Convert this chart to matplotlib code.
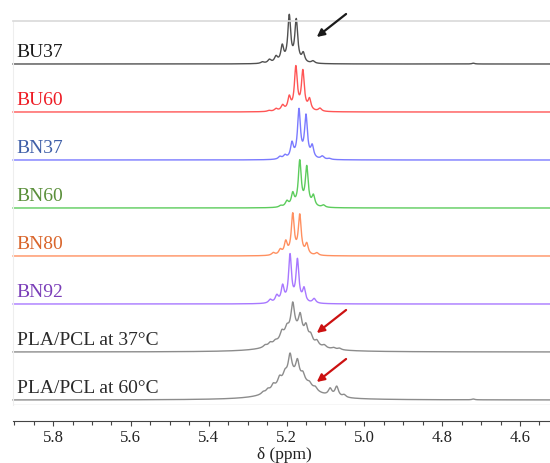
import numpy as np
import matplotlib
matplotlib.use('Agg')
import matplotlib.pyplot as plt
from matplotlib.ticker import MultipleLocator, FormatStrFormatter

plt.rcParams['font.family'] = ['Liberation Serif', 'DejaVu Serif']

# peak lists: (shift in ppm, height, half width)
BU37 = [(5.193, 46, .0045), (5.175, 42, .0045), (5.211, 16, .0045), (5.157, 9, .0045),
        (5.132, 2.3, .005), (5.227, 6, .005), (5.244, 3.5, .005), (5.262, 1.5, .005),
        (4.72, 0.8, .004)]
BU60 = [(5.176, 43, .0045), (5.158, 39, .0045), (5.193, 13, .0045), (5.141, 11, .0045),
        (5.210, 5.5, .005), (5.114, 3, .005), (5.227, 2.5, .005), (5.245, 1, .005)]
BN37 = [(5.168, 48, .0045), (5.150, 42, .0045), (5.186, 15, .0045), (5.134, 12, .0045),
        (5.108, 3, .005), (5.204, 3.5, .005), (5.217, 2.5, .005), (5.09, 1, .005)]
BN60 = [(5.166, 45, .0045), (5.148, 39, .0045), (5.184, 12.5, .0045), (5.131, 10.5, .0045),
        (5.105, 2.2, .005), (5.199, 5.5, .005), (5.215, 1.5, .005)]
BN80 = [(5.184, 40, .0045), (5.166, 39, .0045), (5.202, 12.5, .0045), (5.148, 10.5, .0045),
        (5.216, 5, .005), (5.122, 2.5, .005), (5.234, 2.5, .005)]
BN92 = [(5.191, 47, .0045), (5.172, 42, .0045), (5.210, 16, .0045), (5.155, 13.5, .0045),
        (5.129, 4.5, .005), (5.225, 7, .005), (5.242, 3.5, .005)]
PLA37 = [(5.182, 19, .04),
         (5.184, 28, .0055), (5.165, 19, .0055), (5.150, 13, .0055), (5.199, 7, .0055),
         (5.138, 7, .0055), (5.122, 4.5, .0055), (5.212, 7.5, .0055), (5.229, 2.5, .0055),
         (5.242, 3, .0055), (5.255, 2, .0055), (5.103, 2.5, .0055), (5.079, 1.5, .0055),
         (5.064, 1.5, .0055)]
PLA60 = [(5.19, 21, .04), (5.15, 6, .03),
         (5.191, 21, .0055), (5.172, 17, .0055), (5.204, 6, .0055), (5.158, 7, .0055),
         (5.218, 7, .0055), (5.234, 5, .0055), (5.141, 3, .0055), (5.126, 3, .0055),
         (5.088, 7, .0055), (5.071, 10, .0055), (5.052, 2.5, .0055), (5.248, 3, .0055),
         (5.26, 2, .0055), (4.72, 0.8, .004)]

names = ['BU37', 'BU60', 'BN37', 'BN60', 'BN80', 'BN92', 'PLA/PCL at 37°C', 'PLA/PCL at 60°C']
spectra = [BU37, BU60, BN37, BN60, BN80, BN92, PLA37, PLA60]
line_colors = ['#505050', '#ff5555', '#7a7aff', '#5ccc5c', '#ff9060', '#a878ff', '#8c8c8c', '#8c8c8c']
text_colors = ['#1a1a1a', '#ee1c25', '#3f5fa8', '#5a8f3a', '#d9652b', '#7a3db8', '#2a2a2a', '#2a2a2a']

ppm = np.linspace(5.903, 4.51, 5000)


def spectrum(peaks):
    y = np.zeros_like(ppm)
    for c, h, w in peaks:
        y += h / (1 + ((ppm - c) / w) ** 2)
    return y


fig = plt.figure(figsize=(5.5, 4.63), dpi=100)
ax = fig.add_axes([13 / 550, 58 / 463, 542 / 550, 384 / 463])
ax.set_xlim(5.903, 4.51)
ax.set_ylim(0, 384)

n = len(spectra)
for i, (peaks, name) in enumerate(zip(spectra, names)):
    off = 5 + 48 * (n - 1 - i)
    ax.plot(ppm, off + spectrum(peaks), color=line_colors[i], lw=1.0, clip_on=False)
    ax.text(5.894, off + 3, name, color=text_colors[i], fontsize=14,
            ha='left', va='bottom')

ax.axhline(0, color='#d4d4d4', lw=1)

# arrows pointing at the shoulder region
def px(x, y):
    return 5.903 - (x - 13) / 389, 405 - y

arrows = [((346, 14), (316.7, 37), '#1a1a1a'),
          ((346, 310), (316.7, 333), '#cc1111'),
          ((346, 359), (316.7, 382), '#cc1111')]
for tail, head, c in arrows:
    ax.annotate('', xy=px(*head), xytext=px(*tail), annotation_clip=False,
                arrowprops=dict(arrowstyle='-|>', color=c, lw=1.6, mutation_scale=11,
                                shrinkA=0, shrinkB=0))

ax.spines['top'].set_color('#d9d9d9')
ax.spines['top'].set_linewidth(1.2)
ax.spines['left'].set_color('#eeeeee')
ax.spines['right'].set_visible(False)
ax.spines['bottom'].set_position(('outward', 11.5))
ax.spines['bottom'].set_color('#444444')
ax.spines['bottom'].set_linewidth(0.8)

ax.xaxis.set_major_locator(MultipleLocator(0.2))
ax.xaxis.set_minor_locator(MultipleLocator(0.05))
ax.xaxis.set_major_formatter(FormatStrFormatter('%.1f'))
ax.tick_params(axis='x', which='major', direction='out', length=3.5, width=0.8,
               color='#444444', labelsize=12, pad=3, labelcolor='#222222')
ax.tick_params(axis='x', which='minor', direction='out', length=3, width=0.8,
               color='#444444')
ax.set_yticks([])
ax.set_xlabel('δ (ppm)', fontsize=12.5, labelpad=1, color='#222222')

fig.savefig('out.png', dpi=100)
